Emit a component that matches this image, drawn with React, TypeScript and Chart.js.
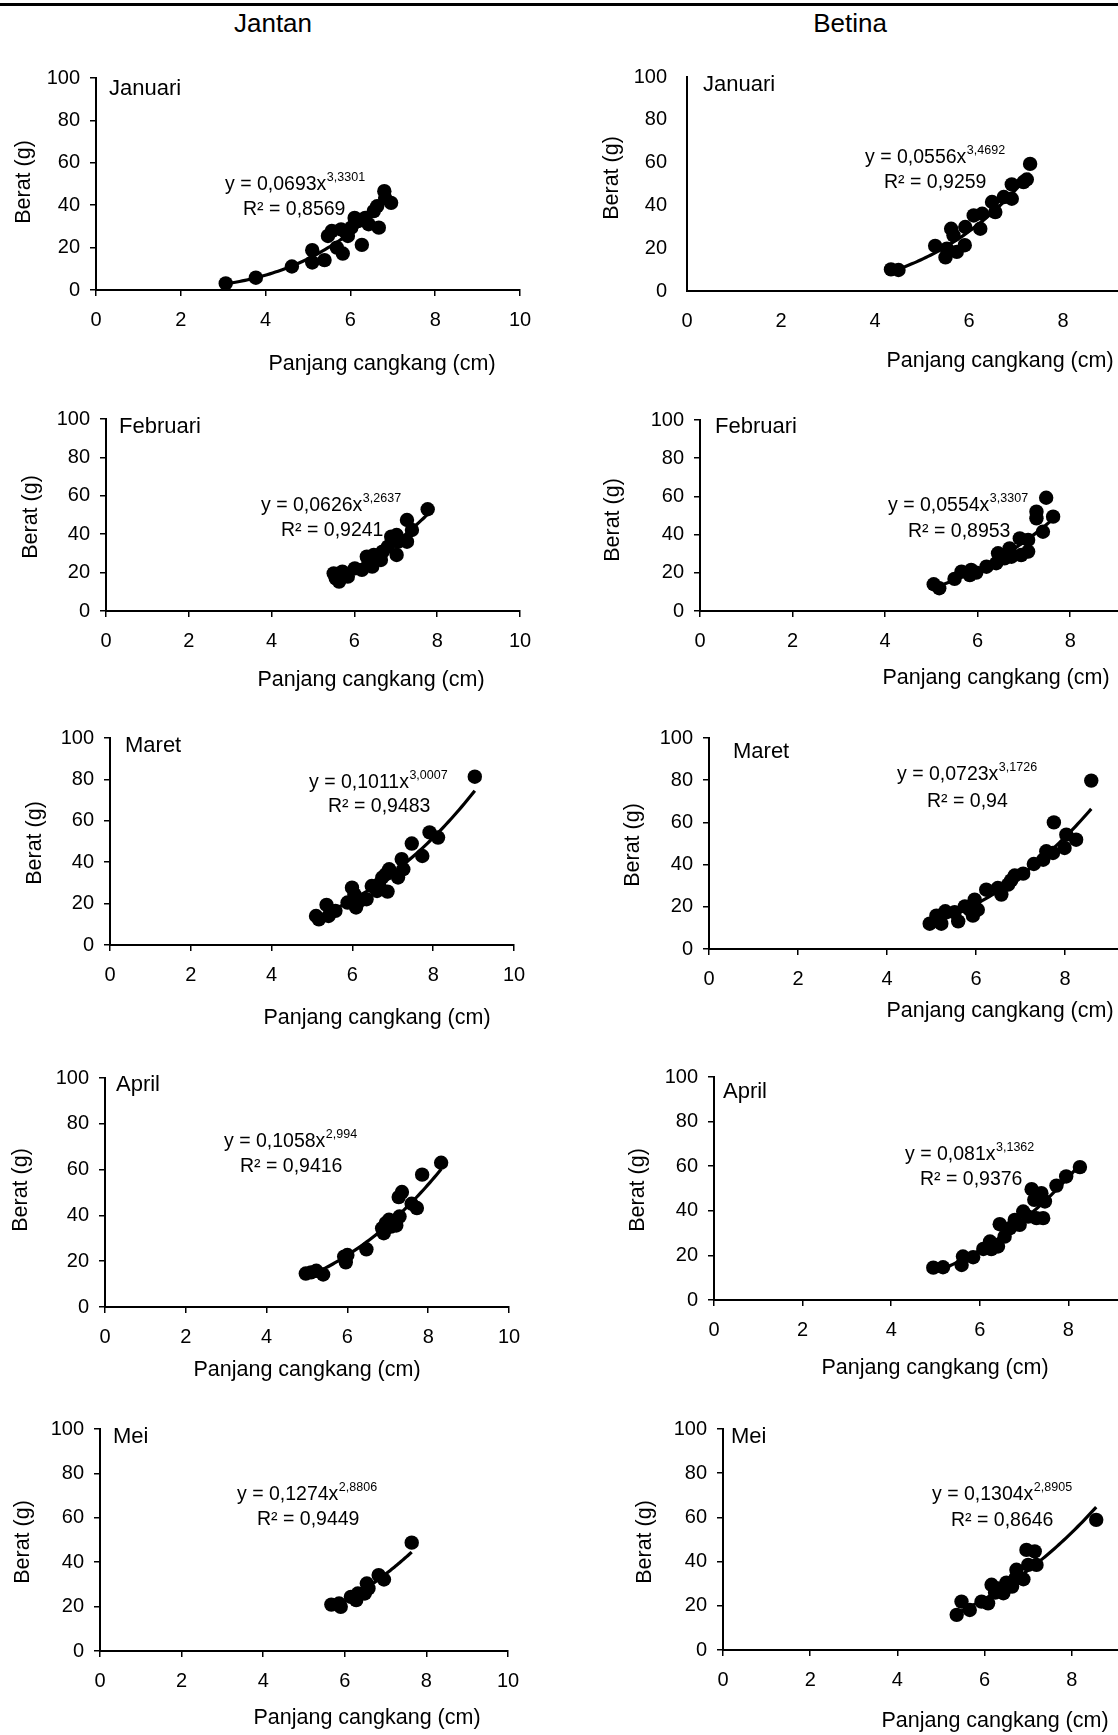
import { useEffect, useRef } from 'react';
import { Chart, registerables } from 'chart.js';

Chart.register(...registerables);

const FONT = "'Liberation Sans', Arial, Helvetica, sans-serif";

// ---------- text ----------
const groups = ['Jantan', 'Betina'];
const months = ['Januari', 'Februari', 'Maret', 'April', 'Mei'];
const xAxisTitle = 'Panjang cangkang (cm)';
const yAxisTitle = 'Berat (g)';
const xTicks = [0, 2, 4, 6, 8, 10];
const yTicks = [0, 20, 40, 60, 80, 100];

// ---------- data: [panjang cangkang (cm), berat (g)] ----------
const jantanJanuari: number[][] = [
  [3.06, 3.1], [3.77, 5.8], [4.62, 11.1], [5.1, 18.8], [5.1, 13.0], [5.39, 14.1], [5.47, 25.5],
  [5.56, 27.8], [5.68, 20.0], [5.82, 17.2], [5.78, 28.6], [5.9, 27.0], [5.94, 25.5], [6.02, 29.4],
  [6.1, 34.0], [6.18, 32.5], [6.27, 21.3], [6.35, 34.0], [6.43, 31.0], [6.55, 37.2], [6.63, 39.5],
  [6.67, 29.4], [6.8, 46.6], [6.82, 43.4], [6.96, 41.1],
];
const betinaJanuari: number[][] = [
  [4.34, 10.1], [4.5, 9.8], [5.28, 21.1], [5.5, 15.7], [5.53, 19.8], [5.62, 29.1], [5.67, 26.0],
  [5.74, 18.3], [5.91, 21.4], [5.92, 29.9], [6.1, 35.3], [6.24, 29.1], [6.28, 36.1], [6.49, 41.6],
  [6.56, 36.9], [6.74, 43.9], [6.91, 43.1], [6.91, 49.8], [7.16, 50.9], [7.23, 52.1], [7.3, 59.4],
];
const jantanFebruari: number[][] = [
  [5.5, 19.6], [5.55, 17.0], [5.63, 15.3], [5.71, 20.5], [5.84, 17.9], [6.01, 22.2], [6.18, 21.4],
  [6.3, 28.3], [6.34, 24.8], [6.43, 23.1], [6.47, 29.2], [6.64, 26.6], [6.68, 30.9], [6.81, 33.5],
  [6.89, 38.7], [7.02, 39.6], [7.02, 29.2], [7.06, 36.1], [7.27, 36.1], [7.27, 47.4], [7.39, 42.2],
  [7.77, 53.0],
];
const betinaFebruari: number[][] = [
  [5.05, 14.0], [5.17, 11.9], [5.5, 16.8], [5.65, 20.6], [5.83, 18.8], [5.86, 21.5], [5.97, 20.1],
  [6.19, 23.2], [6.4, 25.0], [6.44, 30.2], [6.58, 27.6], [6.69, 32.8], [6.73, 28.4], [6.91, 38.0],
  [6.94, 29.3], [7.09, 31.1], [7.09, 37.2], [7.27, 52.0], [7.27, 48.5], [7.41, 41.5], [7.48, 59.3],
  [7.63, 49.4],
];
const jantanMaret: number[][] = [
  [5.1, 14.0], [5.17, 12.4], [5.36, 19.4], [5.41, 14.0], [5.58, 16.5], [5.88, 20.5], [5.99, 27.7],
  [6.05, 24.5], [6.09, 18.1], [6.18, 21.3], [6.35, 22.1], [6.48, 28.5], [6.61, 26.1], [6.66, 29.4],
  [6.74, 32.6], [6.83, 34.2], [6.87, 25.8], [6.91, 36.6], [7.13, 32.6], [7.22, 41.5], [7.26, 36.6],
  [7.47, 49.0], [7.73, 43.0], [7.91, 54.4], [8.12, 51.9], [9.03, 81.3],
];
const betinaMaret: number[][] = [
  [4.96, 12.0], [5.11, 15.8], [5.22, 12.0], [5.31, 17.9], [5.52, 17.4], [5.6, 13.1], [5.75, 20.2],
  [5.86, 18.6], [5.93, 15.8], [5.97, 23.4], [6.04, 18.6], [6.23, 28.1], [6.49, 28.9], [6.57, 25.8],
  [6.72, 30.5], [6.79, 32.5], [6.87, 34.8], [7.06, 35.7], [7.3, 40.3], [7.51, 42.3], [7.58, 46.3],
  [7.73, 45.5], [7.75, 60.0], [7.99, 47.9], [8.03, 54.2], [8.25, 51.8], [8.59, 79.8],
];
const jantanApril: number[][] = [
  [4.97, 14.6], [5.1, 15.1], [5.23, 15.8], [5.4, 14.2], [5.92, 22.0], [5.96, 19.5], [6.0, 22.7],
  [6.47, 25.2], [6.86, 34.4], [6.9, 32.2], [6.95, 36.6], [7.03, 38.1], [7.08, 35.1], [7.21, 35.6],
  [7.29, 39.5], [7.27, 48.0], [7.35, 50.2], [7.59, 45.1], [7.72, 43.2], [7.85, 57.8], [8.32, 63.0],
];
const betinaApril: number[][] = [
  [4.95, 14.5], [5.17, 14.7], [5.59, 15.7], [5.62, 19.5], [5.85, 19.2], [6.08, 22.9], [6.23, 26.2],
  [6.26, 22.8], [6.34, 24.7], [6.41, 24.0], [6.45, 34.0], [6.56, 28.4], [6.68, 32.2], [6.79, 35.9],
  [6.9, 33.7], [6.98, 39.7], [7.09, 37.4], [7.17, 49.7], [7.23, 44.9], [7.28, 36.7], [7.39, 47.9],
  [7.43, 36.7], [7.47, 44.2], [7.73, 51.3], [7.95, 55.4], [8.26, 59.6],
];
const jantanMei: number[][] = [
  [5.67, 20.9], [5.86, 21.4], [5.9, 19.9], [6.15, 24.4], [6.28, 22.9], [6.32, 25.9], [6.49, 25.9],
  [6.54, 30.4], [6.58, 28.2], [6.83, 34.2], [6.96, 32.2], [7.64, 48.8],
];
const betinaMei: number[][] = [
  [5.36, 15.9], [5.47, 21.9], [5.66, 18.1], [5.93, 21.9], [6.08, 21.1], [6.16, 29.5], [6.24, 26.0],
  [6.31, 27.9], [6.43, 25.7], [6.5, 30.5], [6.63, 28.7], [6.71, 32.5], [6.73, 36.3], [6.89, 32.0],
  [6.96, 45.3], [7.0, 38.5], [7.15, 44.6], [7.19, 38.5], [8.56, 58.9],
];

// power trend y = a x^b, as printed on the chart
const jantanCoefA = ['0,0693', '0,0626', '0,1011', '0,1058', '0,1274'];
const jantanCoefB = ['3,3301', '3,2637', '3,0007', '2,994', '2,8806'];
const jantanR2 = ['0,8569', '0,9241', '0,9483', '0,9416', '0,9449'];
const betinaCoefA = ['0,0556', '0,0554', '0,0723', '0,081', '0,1304'];
const betinaCoefB = ['3,4692', '3,3307', '3,1726', '3,1362', '2,8905'];
const betinaR2 = ['0,9259', '0,8953', '0,94', '0,9376', '0,8646'];

const jantanData = [jantanJanuari, jantanFebruari, jantanMaret, jantanApril, jantanMei];
const betinaData = [betinaJanuari, betinaFebruari, betinaMaret, betinaApril, betinaMei];

// ---------- layout (page pixels) ----------
type Pt = { x: number; y: number };
type Layout = {
  box: { x: number; y: number; w: number; h: number };
  plot: { l: number; r: number; t: number; b: number };
  month: Pt; eq: Pt; r2: Pt; yt: Pt; xt: Pt; noTicks?: boolean;
};
const jantanLayout: Layout[] = [
  { box: { x: 0, y: 40, w: 545, h: 345 }, plot: { l: 96, r: 520, t: 78, b: 290 }, month: { x: 109, y: 89 }, eq: { x: 225, y: 185 }, r2: { x: 243, y: 210 }, yt: { x: 24, y: 182 }, xt: { x: 382, y: 364 } },
  { box: { x: 0, y: 390, w: 545, h: 310 }, plot: { l: 106, r: 520, t: 419, b: 611 }, month: { x: 119, y: 427 }, eq: { x: 261, y: 506 }, r2: { x: 281, y: 531 }, yt: { x: 31, y: 517 }, xt: { x: 371, y: 680 } },
  { box: { x: 0, y: 705, w: 545, h: 330 }, plot: { l: 110, r: 514, t: 738, b: 945 }, month: { x: 125, y: 746 }, eq: { x: 309, y: 783 }, r2: { x: 328, y: 807 }, yt: { x: 35, y: 843 }, xt: { x: 377, y: 1018 } },
  { box: { x: 0, y: 1040, w: 545, h: 345 }, plot: { l: 105, r: 509, t: 1078, b: 1307 }, month: { x: 116, y: 1085 }, eq: { x: 224, y: 1142 }, r2: { x: 240, y: 1167 }, yt: { x: 21, y: 1190 }, xt: { x: 307, y: 1370 } },
  { box: { x: 0, y: 1390, w: 545, h: 345 }, plot: { l: 100, r: 508, t: 1429, b: 1651 }, month: { x: 113, y: 1437 }, eq: { x: 237, y: 1495 }, r2: { x: 257, y: 1520 }, yt: { x: 23, y: 1542 }, xt: { x: 367, y: 1718 } },
];
const betinaLayout: Layout[] = [
  { box: { x: 595, y: 40, w: 575, h: 345 }, plot: { l: 687, r: 1157, t: 77, b: 291 }, month: { x: 703, y: 85 }, eq: { x: 865, y: 158 }, r2: { x: 884, y: 183 }, yt: { x: 612, y: 178 }, xt: { x: 1000, y: 361 }, noTicks: true },
  { box: { x: 595, y: 390, w: 575, h: 310 }, plot: { l: 700, r: 1163, t: 420, b: 611 }, month: { x: 715, y: 427 }, eq: { x: 888, y: 506 }, r2: { x: 908, y: 532 }, yt: { x: 613, y: 520 }, xt: { x: 996, y: 678 } },
  { box: { x: 595, y: 705, w: 575, h: 330 }, plot: { l: 709, r: 1154, t: 738, b: 949 }, month: { x: 733, y: 752 }, eq: { x: 897, y: 775 }, r2: { x: 927, y: 802 }, yt: { x: 633, y: 845 }, xt: { x: 1000, y: 1011 } },
  { box: { x: 595, y: 1040, w: 575, h: 345 }, plot: { l: 714, r: 1157, t: 1077, b: 1300 }, month: { x: 723, y: 1092 }, eq: { x: 905, y: 1155 }, r2: { x: 920, y: 1180 }, yt: { x: 638, y: 1190 }, xt: { x: 935, y: 1368 } },
  { box: { x: 595, y: 1390, w: 575, h: 345 }, plot: { l: 723, r: 1159, t: 1429, b: 1650 }, month: { x: 731, y: 1437 }, eq: { x: 932, y: 1495 }, r2: { x: 951, y: 1521 }, yt: { x: 645, y: 1542 }, xt: { x: 995, y: 1721 } },
];

const num = (s: string) => parseFloat(s.replace(',', '.'));

type PanelCfg = {
  month: string; pts: number[][]; a: string; b: string; r2: string; layout: Layout;
};

function Panel({ cfg }: { cfg: PanelCfg }) {
  const ref = useRef<HTMLCanvasElement>(null);
  const { box } = cfg.layout;
  useEffect(() => {
    const canvas = ref.current;
    if (!canvas) return;
    const L = cfg.layout;
    const noTicks = !!L.noTicks;
    const xs = cfg.pts.map((p) => p[0]);
    const minX = Math.min(...xs);
    const maxX = Math.max(...xs);
    const a = num(cfg.a);
    const b = num(cfg.b);
    const trend: { x: number; y: number }[] = [];
    const N = 60;
    for (let i = 0; i <= N; i++) {
      const x = minX + ((maxX - minX) * i) / N;
      trend.push({ x, y: a * Math.pow(x, b) });
    }
    const ox = L.box.x;
    const oy = L.box.y;
    const textPlugin = {
      id: 'panelText',
      afterDraw(chart: any) {
        const ctx = chart.ctx as CanvasRenderingContext2D;
        ctx.save();
        ctx.fillStyle = '#000';
        ctx.textBaseline = 'middle';
        ctx.textAlign = 'left';
        ctx.font = `22px ${FONT}`;
        ctx.fillText(cfg.month, L.month.x - ox, L.month.y - oy);
        ctx.font = `19.5px ${FONT}`;
        const base = `y = ${cfg.a}x`;
        ctx.fillText(base, L.eq.x - ox, L.eq.y - oy);
        const w = ctx.measureText(base).width;
        ctx.font = `12.5px ${FONT}`;
        ctx.fillText(cfg.b, L.eq.x - ox + w + 0.5, L.eq.y - oy - 7);
        ctx.font = `19.5px ${FONT}`;
        ctx.fillText(`R\u00B2 = ${cfg.r2}`, L.r2.x - ox, L.r2.y - oy);
        ctx.font = `21.5px ${FONT}`;
        ctx.textAlign = 'center';
        ctx.fillText(xAxisTitle, L.xt.x - ox, L.xt.y - oy);
        ctx.translate(L.yt.x - ox, L.yt.y - oy);
        ctx.rotate(-Math.PI / 2);
        ctx.fillText(yAxisTitle, 0, 0);
        ctx.restore();
      },
    };
    const tickFont = { family: FONT, size: 20 };
    const chart = new Chart(canvas, {
      type: 'scatter',
      data: {
        datasets: [
          {
            data: cfg.pts.map((p) => ({ x: p[0], y: p[1] })),
            pointRadius: 7.2,
            pointHoverRadius: 7.2,
            pointBackgroundColor: '#000',
            pointBorderColor: '#000',
            pointBorderWidth: 0,
          },
          {
            data: trend,
            showLine: true,
            borderColor: '#000',
            borderWidth: 3.2,
            pointRadius: 0,
            pointHoverRadius: 0,
          } as any,
        ],
      },
      options: {
        animation: false,
        responsive: false,
        devicePixelRatio: 1,
        events: [],
        layout: {
          padding: { left: 0, top: L.plot.t - L.box.y, right: L.box.x + L.box.w - L.plot.r, bottom: 0 },
        },
        plugins: { legend: { display: false }, tooltip: { enabled: false } },
        scales: {
          x: {
            type: 'linear',
            min: xTicks[0],
            max: xTicks[xTicks.length - 1],
            afterBuildTicks: (s: any) => { s.ticks = xTicks.map((v) => ({ value: v })); },
            ticks: { color: '#000', font: tickFont, padding: noTicks ? 18 : 12, maxRotation: 0, autoSkip: false },
            grid: { display: !noTicks, drawOnChartArea: false, drawTicks: !noTicks, tickLength: 6, color: '#000', lineWidth: 1.5 },
            border: { display: true, color: '#000', width: 2 },
            afterFit: (s: any) => { s.height = L.box.y + L.box.h - L.plot.b; s.paddingLeft = 0; s.paddingRight = 0; },
          },
          y: {
            type: 'linear',
            min: yTicks[0],
            max: yTicks[yTicks.length - 1],
            afterBuildTicks: (s: any) => { s.ticks = yTicks.map((v) => ({ value: v })); },
            ticks: { color: '#000', font: tickFont, padding: noTicks ? 20 : 10, autoSkip: false },
            grid: { display: !noTicks, drawOnChartArea: false, drawTicks: !noTicks, tickLength: 6, color: '#000', lineWidth: 1.5 },
            border: { display: true, color: '#000', width: 2 },
            afterFit: (s: any) => { s.width = L.plot.l - L.box.x; s.paddingTop = 0; s.paddingBottom = 0; },
          },
        },
      } as any,
      plugins: [textPlugin],
    });
    return () => chart.destroy();
  }, [cfg]);
  return (
    <canvas
      ref={ref}
      width={box.w}
      height={box.h}
      style={{ position: 'absolute', left: box.x, top: box.y, width: box.w, height: box.h, display: 'block' }}
    />
  );
}

const panels: PanelCfg[] = [];
for (let i = 0; i < months.length; i++) {
  panels.push({ month: months[i], pts: jantanData[i], a: jantanCoefA[i], b: jantanCoefB[i], r2: jantanR2[i], layout: jantanLayout[i] });
  panels.push({ month: months[i], pts: betinaData[i], a: betinaCoefA[i], b: betinaCoefB[i], r2: betinaR2[i], layout: betinaLayout[i] });
}

export default function App() {
  const headerStyle = (cx: number): React.CSSProperties => ({
    position: 'absolute',
    left: cx,
    top: 23,
    transform: 'translate(-50%, -50%)',
    fontFamily: FONT,
    fontSize: 26,
    lineHeight: 1,
    color: '#000',
    whiteSpace: 'nowrap',
  });
  return (
    <div
      style={{
        position: 'absolute',
        left: 0,
        top: 0,
        width: 1118,
        height: 1735,
        overflow: 'hidden',
        background: '#fff',
      }}
    >
      <div style={{ position: 'absolute', left: 0, top: 3, width: 1118, height: 3, background: '#000' }} />
      <div style={headerStyle(273)}>{groups[0]}</div>
      <div style={headerStyle(850)}>{groups[1]}</div>
      {panels.map((p, i) => (
        <Panel key={i} cfg={p} />
      ))}
    </div>
  );
}
